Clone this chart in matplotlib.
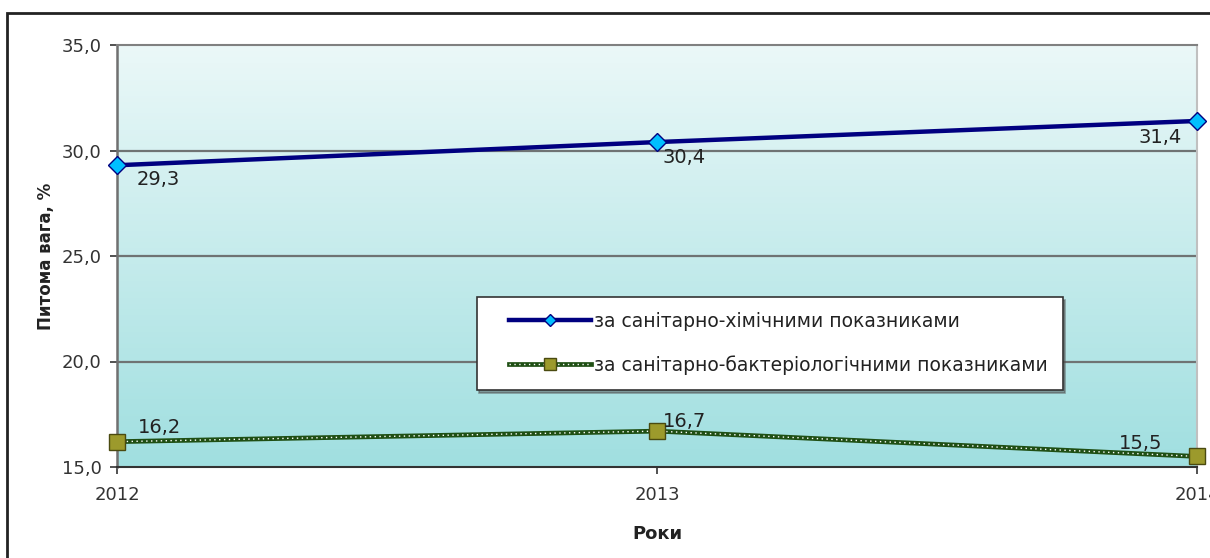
import numpy as np
import matplotlib.pyplot as plt
from matplotlib.lines import Line2D
from matplotlib.legend_handler import HandlerTuple, HandlerLine2D
from matplotlib.patches import Rectangle
from matplotlib.colors import LinearSegmentedColormap

plt.rcParams['font.family'] = ['DejaVu Sans']

years = [2012, 2013, 2014]
chem = [29.3, 30.4, 31.4]
bact = [16.2, 16.7, 15.5]
y_ticks = [15.0, 20.0, 25.0, 30.0, 35.0]
label_chem = 'за санітарно-хімічними показниками'
label_bact = 'за санітарно-бактеріологічними показниками'

fig = plt.figure(figsize=(12.1, 5.58), dpi=100)
ax = fig.add_axes([117 / 1210, 1 - 467 / 558, 1080 / 1210, 422 / 558])

# outer frame of the chart
fig.patches.append(Rectangle((7 / 1210, -0.05), 1.1, (545 / 558) + 0.05,
                             transform=fig.transFigure, fill=False,
                             edgecolor='#222222', linewidth=2, clip_on=False))

# gradient background
cmap = LinearSegmentedColormap.from_list('bg', ['#a0dfe0', '#ebf8f8'])
grad = np.linspace(0, 1, 256).reshape(-1, 1)
ax.imshow(grad, aspect='auto', cmap=cmap, origin='lower',
          extent=[years[0], years[-1], y_ticks[0], y_ticks[-1]], zorder=0)

ax.set_xlim(years[0], years[-1])
ax.set_ylim(y_ticks[0], y_ticks[-1])

for yv in y_ticks[1:-1]:
    ax.axhline(yv, color='#6f7373', linewidth=1.6, zorder=1)

# chemical indicators
ax.plot(years, chem, color='#000080', linewidth=3.2, zorder=3, clip_on=False)
ax.plot(years, chem, linestyle='none', marker='D', markersize=9,
        markerfacecolor='#00bfff', markeredgecolor='#000080',
        markeredgewidth=1, zorder=4, clip_on=False)

# bacteriological indicators (patterned line)
ax.plot(years, bact, color='#1f4f14', linewidth=3.4, zorder=3, clip_on=False)
ax.plot(years, bact, color='white', linewidth=1.0, linestyle=(0, (1, 2.5)),
        zorder=3, clip_on=False)
ax.plot(years, bact, linestyle='none', marker='s', markersize=12,
        markerfacecolor='#9c9a2c', markeredgecolor='#4a4a10',
        markeredgewidth=1, zorder=4, clip_on=False)

def fmt(v):
    return f'{v:.1f}'.replace('.', ',')

offs_chem = [(14, -10, 'left'), (4, -11, 'left'), (-11, -12, 'right')]
for x, y, (dx, dy, ha) in zip(years, chem, offs_chem):
    ax.annotate(fmt(y), (x, y), xytext=(dx, dy), textcoords='offset points',
                ha=ha, va='center', fontsize=14, color='#222222', zorder=5)
offs_bact = [(15, 10, 'left'), (4, 7, 'left'), (-25, 9.5, 'right')]
for x, y, (dx, dy, ha) in zip(years, bact, offs_bact):
    ax.annotate(fmt(y), (x, y), xytext=(dx, dy), textcoords='offset points',
                ha=ha, va='center', fontsize=14, color='#222222', zorder=5)

ax.set_xticks(years)
ax.set_xticklabels([str(y) for y in years])
ax.set_yticks(y_ticks)
ax.set_yticklabels([fmt(v) for v in y_ticks])
ax.tick_params(axis='both', labelsize=13, colors='#333333', length=5, width=1.2)
ax.tick_params(axis='x', pad=9)
ax.tick_params(axis='y', pad=6)

ax.spines['left'].set_color('#707070')
ax.spines['left'].set_linewidth(1.8)
ax.spines['bottom'].set_color('#333333')
ax.spines['bottom'].set_linewidth(1.5)
ax.spines['top'].set_color('#808080')
ax.spines['top'].set_linewidth(1.5)
ax.spines['right'].set_color('#c0c0c0')
ax.spines['right'].set_linewidth(1.5)

ax.set_ylabel('Питома вага, %', fontsize=12, fontweight='bold', color='#222222', labelpad=5)
ax.set_xlabel('Роки', fontsize=13, fontweight='bold', color='#222222', labelpad=15)

h_chem = Line2D([], [], color='#000080', linewidth=3.2, marker='D', markersize=6,
                markerfacecolor='#00bfff', markeredgecolor='#000080')
h_bact = (Line2D([], [], color='#1f4f14', linewidth=3.4),
          Line2D([], [], color='white', linewidth=1.0, linestyle=(0, (1, 2.5))),
          Line2D([], [], linestyle='none', marker='s', markersize=8,
                 markerfacecolor='#9c9a2c', markeredgecolor='#4a4a10'))
leg = ax.legend([h_chem, h_bact], [label_chem, label_bact],
                handler_map={tuple: HandlerTuple(ndivide=1, pad=0, xpad=0.95),
                             Line2D: HandlerLine2D(xpad=0.95)},
                loc='upper left', bbox_to_anchor=(0.333, 0.403),
                fontsize=13.5, handlelength=5.3, handletextpad=0.15,
                labelspacing=1.3, borderpad=0.8, borderaxespad=0,
                fancybox=False, shadow=True, framealpha=1,
                edgecolor='#333333')
leg.get_frame().set_linewidth(1.2)
for t in leg.get_texts():
    t.set_color('#222222')

fig.savefig('out.png', dpi=100)
